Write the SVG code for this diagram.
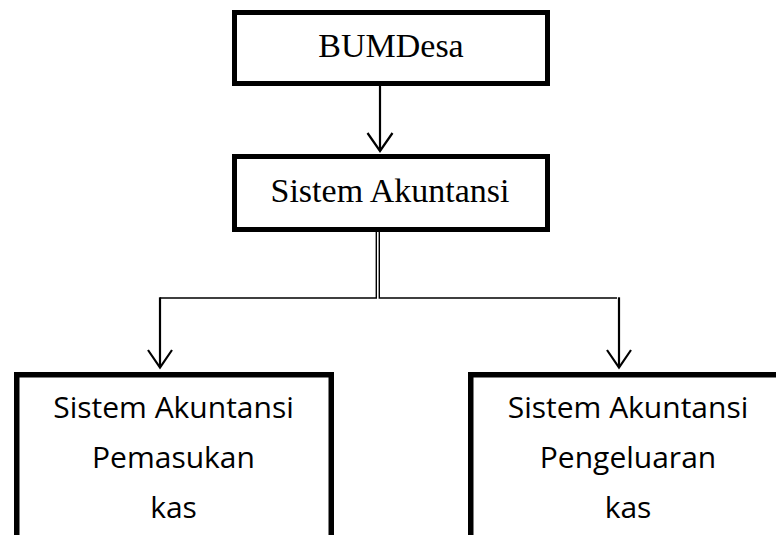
<svg xmlns="http://www.w3.org/2000/svg" width="776" height="535" viewBox="0 0 776 535">
  <style>
    .box { fill: #ffffff; stroke: #000000; stroke-width: 5; }
    .box-lg { fill: #ffffff; stroke: #000000; stroke-width: 5.5; }
    .serif { font-family: "Liberation Serif", "Times New Roman", serif; font-size: 34px; fill: #000000; text-anchor: middle; }
    .sans { font-family: "Open Sans", "Noto Sans", sans-serif; font-size: 30px; fill: #000000; text-anchor: middle; }
    .wire { fill: none; stroke: #000000; stroke-width: 1.4; }
    .shaft { fill: none; stroke: #000000; stroke-width: 2.2; }
    .head { fill: none; stroke: #000000; stroke-width: 2.2; stroke-linejoin: miter; }
  </style>

  <rect width="776" height="535" fill="#ffffff"/>

  <!-- connectors -->
  <g id="connectors">
    <!-- BUMDesa to Sistem Akuntansi -->
    <line class="shaft" x1="380" y1="86" x2="380" y2="151"/>
    <polyline class="head" points="367.5,133 380,151 392.5,133"/>

    <!-- double trunk splitting into two branches -->
    <path class="wire" d="M376.3,232 V298 H160"/>
    <path class="wire" d="M379.3,232 V298 H617"/>

    <!-- left branch -->
    <line class="shaft" x1="160" y1="297.3" x2="160" y2="367"/>
    <polyline class="head" points="148,350 160,367.5 172,350"/>

    <!-- right branch -->
    <line class="shaft" x1="619" y1="297.3" x2="619" y2="367"/>
    <polyline class="head" points="607,350 619,367.5 631,350"/>
  </g>

  <g id="node-bumdesa">
    <rect class="box" x="234.5" y="12.5" width="313" height="71"/>
    <text class="serif" x="391" y="57">BUMDesa</text>
  </g>

  <g id="node-sistem-akuntansi">
    <rect class="box" x="234.5" y="156.5" width="313" height="73"/>
    <text class="serif" x="390" y="202">Sistem Akuntansi</text>
  </g>

  <g id="node-pemasukan-kas">
    <rect class="box-lg" x="16.75" y="374.75" width="314.5" height="180"/>
    <text class="sans" x="173.5" y="418">Sistem Akuntansi</text>
    <text class="sans" x="173.5" y="468">Pemasukan</text>
    <text class="sans" x="173.5" y="518">kas</text>
  </g>

  <g id="node-pengeluaran-kas">
    <rect class="box-lg" x="470.75" y="374.75" width="314.5" height="180"/>
    <text class="sans" x="628" y="418">Sistem Akuntansi</text>
    <text class="sans" x="628" y="468">Pengeluaran</text>
    <text class="sans" x="628" y="518">kas</text>
  </g>
</svg>
